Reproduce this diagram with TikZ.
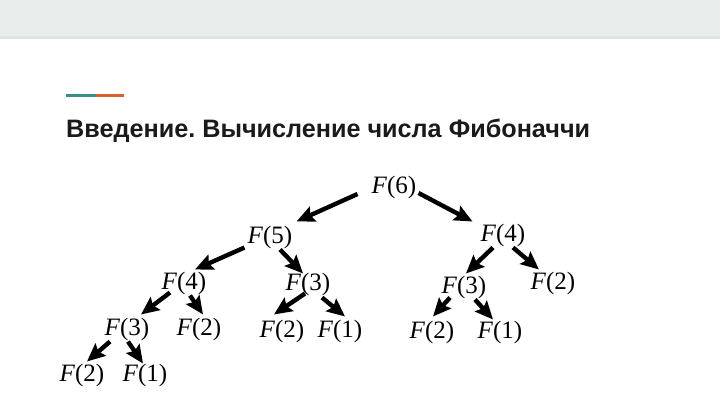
\documentclass[tikz,border=0pt]{standalone}
\usepackage{fontspec}
\setmainfont{Liberation Serif}
\newfontfamily\titlefont{Liberation Sans}
\usetikzlibrary{arrows.meta}
\definecolor{headgrey}{HTML}{E9EDEC}
\definecolor{headline}{HTML}{DFE3E2}
\definecolor{accteal}{HTML}{3A8F8C}
\definecolor{accorange}{HTML}{D4622A}
\definecolor{titleblack}{HTML}{1A1A1A}
\frenchspacing
\begin{document}
\begin{tikzpicture}[x=1pt,y=-1pt,
  fib/.style={inner sep=0pt, font=\fontsize{25}{27}\selectfont},
  arr/.style={line width=4.4pt, -{Stealth[length=18pt,width=16pt,inset=3pt]}}]
\useasboundingbox (0,0) rectangle (720,405);
\fill[white] (0,0) rectangle (720,405);
\fill[headgrey] (0,0) rectangle (720,37);
\fill[headline] (0,36) rectangle (720,39);
\fill[accteal] (66,93.5) rectangle (96,96.5);
\fill[accorange] (96,93.5) rectangle (124,96.5);
\node[anchor=base west, inner sep=0pt, text=titleblack, font=\titlefont\bfseries\fontsize{25.2}{30}\selectfont] (title) at (66,137) {Введение. Вычисление числа Фибоначчи};

\node[fib] (n6) at (394,187) {\textit{F}(6)};
\node[fib] (n5) at (270,237) {\textit{F}(5)};
\node[fib] (n4r) at (503,235) {\textit{F}(4)};
\node[fib] (n4l) at (184,283) {\textit{F}(4)};
\node[fib] (n3m) at (308,284) {\textit{F}(3)};
\node[fib] (n3r) at (464,287) {\textit{F}(3)};
\node[fib] (n2r) at (553,283) {\textit{F}(2)};
\node[fib] (n3l) at (127,329) {\textit{F}(3)};
\node[fib] (n2a) at (199,329) {\textit{F}(2)};
\node[fib] (n2m) at (282,331) {\textit{F}(2)};
\node[fib] (n1m) at (340,331) {\textit{F}(1)};
\node[fib] (n2c) at (432,332) {\textit{F}(2)};
\node[fib] (n1c) at (500,332) {\textit{F}(1)};
\node[fib] (n2b) at (82,375) {\textit{F}(2)};
\node[fib] (n1b) at (145,375) {\textit{F}(1)};

\draw[arr] ([xshift=-14pt,yshift=-7pt]n6.west) -- ([xshift=4pt,yshift=4pt]n5.north east);
\draw[arr] ([xshift=2pt,yshift=-6pt]n6.east) -- ([xshift=-8pt,yshift=2pt]n4r.north west);
\draw[arr] ([xshift=-3pt,yshift=1pt]n5.south west) -- ([xshift=11pt,yshift=2pt]n4l.north);
\draw[arr] ([xshift=10pt,yshift=-1pt]n5.south) -- ([xshift=-5pt,yshift=-1pt]n3m.north);
\draw[arr] ([xshift=-10pt,yshift=-1pt]n4r.south) -- ([xshift=2pt,yshift=2pt]n3r.north);
\draw[arr] ([xshift=10pt,yshift=-1pt]n4r.south) -- ([xshift=-14pt,yshift=2pt]n2r.north);
\draw[arr] ([xshift=-14pt,yshift=2pt]n4l.south) -- ([xshift=14pt,yshift=3pt]n3l.north);
\draw[arr] ([xshift=6pt,yshift=-1pt]n4l.south) -- ([xshift=4pt,yshift=3pt]n2a.north);
\draw[arr] ([xshift=-3pt,yshift=2pt]n3m.south) -- ([xshift=-8pt,yshift=5pt]n2m.north);
\draw[arr] ([xshift=14pt,yshift=-2pt]n3m.south) -- ([xshift=5pt,yshift=3pt]n1m.north);
\draw[arr] ([xshift=-17pt,yshift=-1pt]n3l.south) -- ([xshift=5pt,yshift=2pt]n2b.north);
\draw[arr] ([xshift=1pt,yshift=-1pt]n3l.south) -- ([xshift=-2pt,yshift=0pt]n1b.north);
\draw[arr] ([xshift=-14pt,yshift=1pt]n3r.south) -- ([xshift=1pt,yshift=4pt]n2c.north);
\draw[arr] ([xshift=11pt,yshift=-1pt]n3r.south) -- ([xshift=-7pt,yshift=1pt]n1c.north);
\end{tikzpicture}
\end{document}
